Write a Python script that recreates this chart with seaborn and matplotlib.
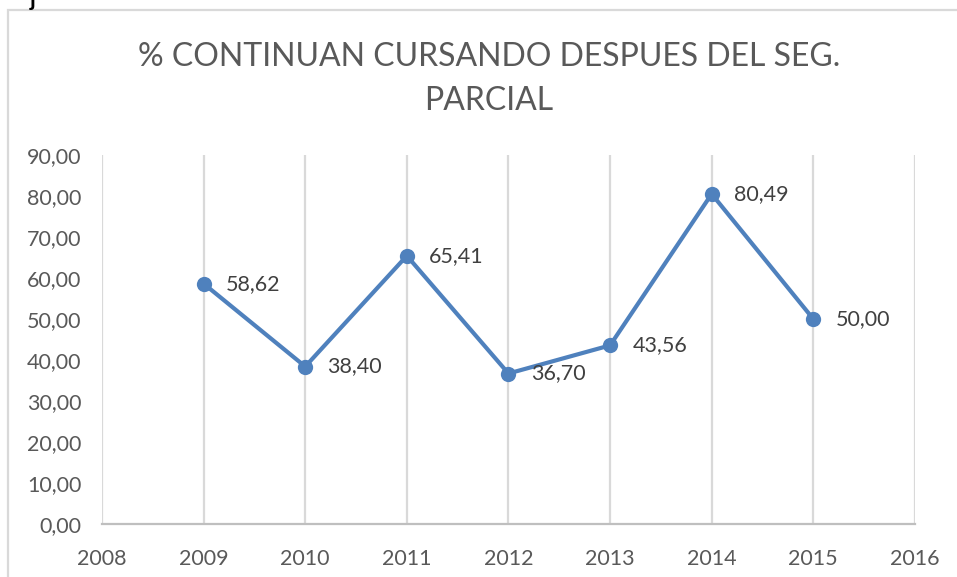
import numpy as np
import pandas as pd
import seaborn as sns
import matplotlib.pyplot as plt
from matplotlib.patches import Rectangle

years = [2009, 2010, 2011, 2012, 2013, 2014, 2015]
valores = [58.62, 38.40, 65.41, 36.70, 43.56, 80.49, 50.00]
titulo = "% CONTINUAN CURSANDO DESPUES DEL SEG.\nPARCIAL"

df = pd.DataFrame({"anio": years, "valor": valores})

sns.set_style("white")
plt.rcParams['font.family'] = ['Lato', 'DejaVu Sans']

fig = plt.figure(figsize=(9.57, 5.77), dpi=100)
ax = fig.add_axes([0.1066, 0.0919, 0.8494, 0.6395])

sns.lineplot(data=df, x="anio", y="valor", ax=ax, color="#4F81BD",
             linewidth=3, marker="o", markersize=11,
             markeredgewidth=0, markerfacecolor="#4F81BD")

for x, y in zip(years, valores):
    ax.annotate(f"{y:.2f}".replace(".", ","), (x, y), xytext=(16, 0),
                textcoords="offset points", ha="left", va="center",
                fontsize=15.5, color="#404040")

ax.set_xlim(2008, 2016)
ax.set_ylim(0, 90)
ax.set_xticks(range(2008, 2017))
ax.set_yticks(np.arange(0, 91, 10))
ax.set_yticklabels([f"{v:.2f}".replace(".", ",") for v in np.arange(0, 91, 10)])
ax.tick_params(axis="both", length=0, labelsize=15.5, colors="#595959")
ax.tick_params(axis="y", pad=15)
ax.tick_params(axis="x", pad=18)
ax.set_xlabel("")
ax.set_ylabel("")

ax.xaxis.grid(True, color="#D9D9D9", linewidth=1.6)
ax.yaxis.grid(False)
for s in ["top", "left", "right"]:
    ax.spines[s].set_visible(False)
ax.spines["bottom"].set_color("#BFBFBF")
ax.spines["bottom"].set_linewidth(1.6)

fig.text(0.511, 0.863, titulo, ha="center", va="center", fontsize=23,
         color="#595959", linespacing=1.55)

# chart frame
fig.patches.append(Rectangle((8 / 957, -0.1), 1.2, 1 - 10 / 577 + 0.1,
                             transform=fig.transFigure, fill=False,
                             edgecolor="#D9D9D9", linewidth=1.6))
fig.text(30 / 957, 1.0, "j", ha="left", va="center", fontsize=16,
         color="black", fontweight="bold")

fig.savefig("out.png", dpi=100)
